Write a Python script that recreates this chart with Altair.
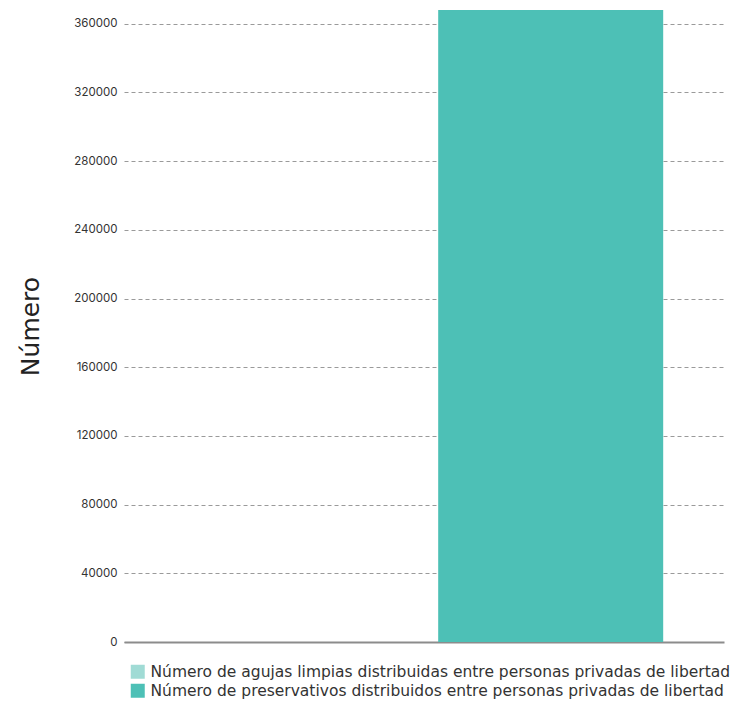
import altair as alt
import pandas as pd

series = [
    "Número de agujas limpias distribuidas entre personas privadas de libertad",
    "Número de preservativos distribuidos entre personas privadas de libertad",
]
values = [0, 368000]
colors = ["#a0dbd5", "#4dc0b6"]
y_ticks = [0, 40000, 80000, 120000, 160000, 200000, 240000, 280000, 320000, 360000]

df = pd.DataFrame({"serie": series, "valor": values})

chart = (
    alt.Chart(df)
    .mark_bar()
    .encode(
        x=alt.X(
            "serie:N",
            sort=series,
            scale=alt.Scale(paddingInner=0.112, paddingOuter=0.24),
            axis=alt.Axis(
                labels=False, ticks=False, title=None,
                domainColor="#8c8c8c", domainWidth=2, grid=False,
            ),
        ),
        y=alt.Y(
            "valor:Q",
            scale=alt.Scale(domain=[0, 368000], nice=False),
            axis=alt.Axis(
                title="Número",
                values=y_ticks,
                format="d",
                domain=False,
                ticks=False,
                grid=True,
                gridDash=[4, 3],
                gridColor="#9a9a9a",
                gridWidth=1,
                labelFont="Inter",
                labelFontSize=11.5,
                labelColor="#333333",
                labelPadding=7,
                titleFont="DejaVu Sans",
                titleFontSize=25,
                titleFontWeight="normal",
                titleColor="#222222",
                titlePadding=30,
            ),
        ),
        color=alt.Color(
            "serie:N",
            sort=series,
            scale=alt.Scale(domain=series, range=colors),
            legend=alt.Legend(
                title=None,
                orient="none",
                legendX=6,
                legendY=654,
                symbolType="square",
                symbolSize=196,
                symbolStrokeWidth=0,
                symbolOpacity=1,
                labelFont="DejaVu Sans",
                labelFontSize=15.5,
                labelColor="#333333",
                labelOffset=5,
                rowPadding=2,
                labelLimit=700,
                padding=0,
            ),
        ),
    )
    .properties(width=600, height=632, padding={"left": 10, "top": 2, "right": 0, "bottom": 5})
    .configure_view(stroke=None)
)

chart.save("out.html", embed_options={"renderer": "svg", "actions": False})
